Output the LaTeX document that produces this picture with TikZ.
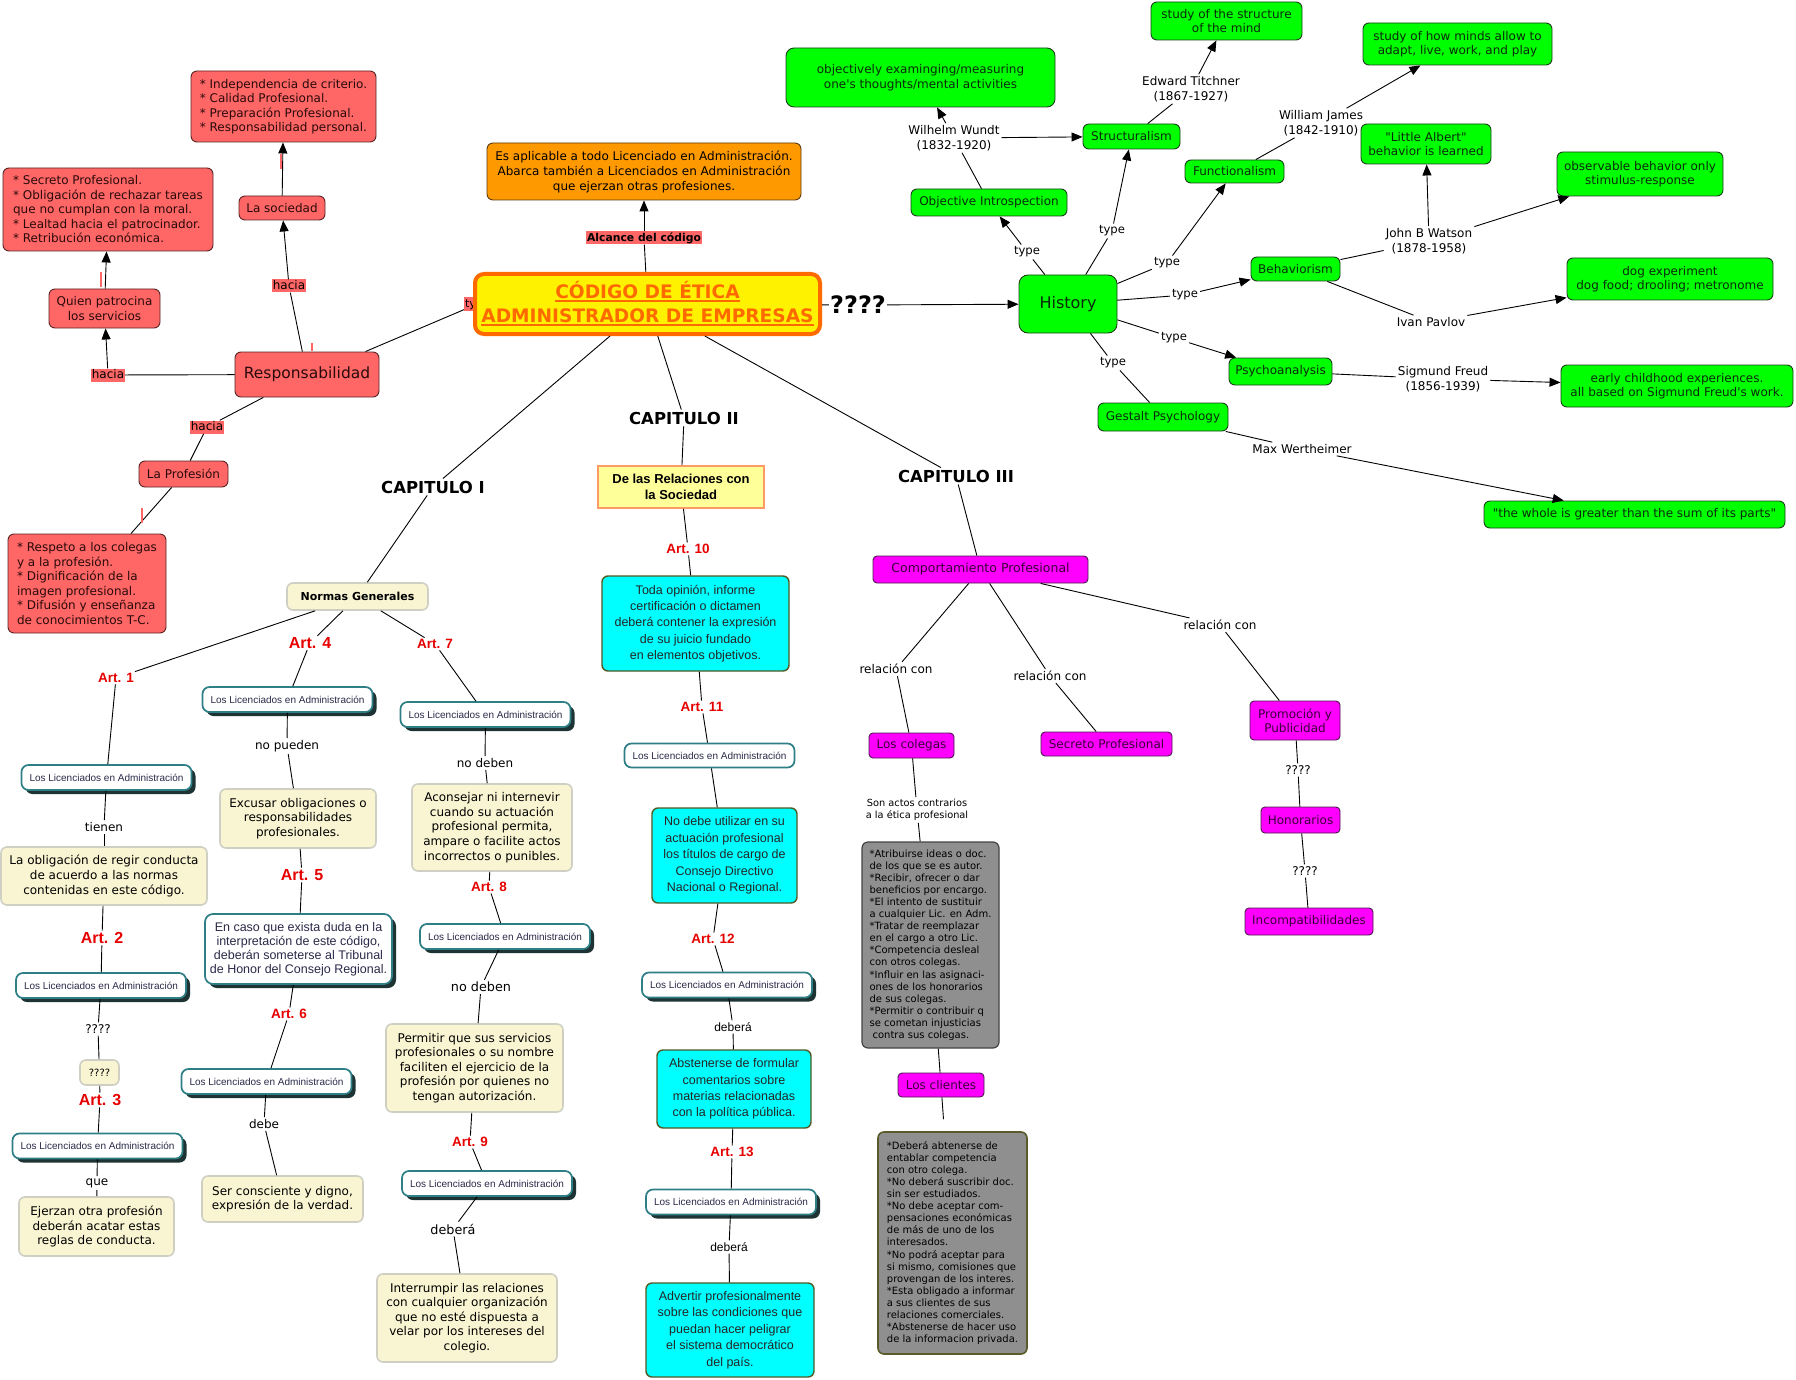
\documentclass[tikz,border=0pt]{standalone}
\usepackage{fontspec}
\setmainfont{DejaVu Sans}
\newfontfamily\arialf{Liberation Sans}
\usetikzlibrary{arrows.meta,shadows}
\definecolor{redbox}{HTML}{FF6666}
\definecolor{redborder}{HTML}{5A2424}
\definecolor{redtext}{HTML}{2A0A0A}
\definecolor{greenbox}{HTML}{00FF00}
\definecolor{greenborder}{HTML}{1A3F1A}
\definecolor{greentext}{HTML}{0A2A0A}
\definecolor{cyanbox}{HTML}{00FFFF}
\definecolor{cyanborder}{HTML}{4F5A24}
\definecolor{magbox}{HTML}{FF00FF}
\definecolor{magborder}{HTML}{4A1A4A}
\definecolor{magtext}{HTML}{3A003A}
\definecolor{creambox}{HTML}{F9F5D2}
\definecolor{creamborder}{HTML}{CFCFC4}
\definecolor{tealborder}{HTML}{2E7F86}
\definecolor{shadowc}{HTML}{1E3434}
\definecolor{lltext}{HTML}{2A2A4A}
\definecolor{orangebox}{HTML}{FF9900}
\definecolor{orangeborder}{HTML}{5A3A10}
\definecolor{mainorange}{HTML}{FF6A00}
\definecolor{relfill}{HTML}{FFFF99}
\definecolor{relborder}{HTML}{FF9966}
\definecolor{grayboxc}{HTML}{8F8F8F}
\definecolor{grayborderA}{HTML}{444444}
\definecolor{grayborderB}{HTML}{5A5A2A}
\definecolor{artred}{HTML}{E60000}
\newcommand{\myfs}[2]{\fontsize{#1}{#2}\selectfont}
\newcommand{\ulx}[1]{\leavevmode\setbox0\hbox{#1}\rlap{\rule[-3.5pt]{\wd0}{2pt}}\box0}
\tikzset{
 conn/.style={draw=black, line width=0.9pt},
 arr/.style={conn, -{Triangle[length=11pt,width=9pt]}},
 boxbase/.style={rounded corners=6pt, inner sep=3pt, align=center},
 redb/.style={boxbase, fill=redbox, draw=redborder, line width=0.9pt, text=redtext, font=\myfs{12}{14.5}},
 hacia/.style={fill=redbox, inner xsep=0.8pt, inner ysep=0.5pt, text height=9.5pt, text depth=2.5pt, font=\myfs{12}{14}},
 redmark/.style={fill=redbox, minimum width=2pt, minimum height=15pt, inner sep=0pt},
 greenb/.style={boxbase, fill=greenbox, draw=greenborder, line width=0.9pt, text=greentext, font=\myfs{12}{14.5}},
 lbl/.style={inner sep=2pt, align=center, font=\myfs{12}{14.5}},
 cyanb/.style={boxbase, fill=cyanbox, draw=cyanborder, line width=1.4pt, text=black!85, font=\arialf\myfs{12.5}{16.4}},
 llb/.style={rounded corners=7pt, fill=white, draw=tealborder, line width=1.7pt, text=lltext, font=\arialf\myfs{10}{12}, minimum width=170pt, minimum height=25pt, inner sep=2pt, align=center, drop shadow={shadow xshift=4pt, shadow yshift=-4pt, opacity=1, fill=shadowc}},
 llplain/.style={rounded corners=7pt, fill=white, draw=tealborder, line width=1.7pt, text=lltext, font=\arialf\myfs{10}{12}, minimum width=170pt, minimum height=24pt, inner sep=2pt},
 creamb/.style={boxbase, fill=creambox, draw=creamborder, line width=1.6pt, text=black, font=\myfs{12}{14.6}},
 art/.style={text=artred, inner sep=1.5pt, font=\arialf\bfseries\myfs{13.5}{15}},
 artL/.style={text=artred, inner sep=1.5pt, font=\arialf\bfseries\myfs{16}{18}},
 capl/.style={inner sep=2pt, font=\bfseries\myfs{16.5}{19}},
 magb/.style={boxbase, rounded corners=4pt, fill=magbox, draw=magborder, line width=0.9pt, text=magtext, font=\myfs{12}{14}},
 grayb/.style={boxbase, align=left, fill=grayboxc, line width=1.2pt, text=black, font=\myfs{10}{12.1}},
 mainb/.style={rounded corners=9pt, fill=yellow, draw=mainorange, line width=4pt, text=mainorange, align=center, font=\bfseries\myfs{18.6}{24}, minimum width=345pt, minimum height=60pt}
}
\begin{document}
\begin{tikzpicture}[x=1pt,y=-1pt]
\useasboundingbox[fill=white] (0,0) rectangle (1796,1380);

% ---------------- red area ----------------
\node[redb, align=left, minimum width=185pt, minimum height=71pt] (rInd) at (283.5,106.5) {* Independencia de criterio.\\* Calidad Profesional.\\* Preparación Profesional.\\* Responsabilidad personal.};
\node[redb, minimum width=86pt, minimum height=24pt] (rSoc) at (282,208) {La sociedad};
\node[redb, align=left, minimum width=210pt, minimum height=83pt] (rSec) at (108,209.5) {* Secreto Profesional.\\* Obligación de rechazar tareas\\que no cumplan con la moral.\\* Lealtad hacia el patrocinador.\\* Retribución económica.};
\node[redb, minimum width=111pt, minimum height=39pt] (rQuien) at (104.5,308.5) {Quien patrocina\\los servicios};
\node[redmark, minimum height=8pt] (mk3) at (312,347) {};
\node[redb, font=\myfs{15.5}{18}, minimum width=144pt, minimum height=45pt] (rResp) at (307,374.5) {Responsabilidad};
\node[redb, minimum width=89pt, minimum height=26pt] (rProf) at (183.5,474) {La Profesión};
\node[redb, align=left, minimum width=158pt, minimum height=99pt] (rRes) at (87,583.5) {* Respeto a los colegas\\y a la profesión.\\* Dignificación de la\\imagen profesional.\\* Difusión y enseñanza\\de conocimientos T-C.};
\node[hacia] (hacia1) at (108,375) {hacia};
\node[hacia] (hacia2) at (289,286) {hacia};
\node[hacia] (hacia3) at (207,427) {hacia};
\node[hacia, font=\myfs{11}{13}, anchor=west] (typeR) at (464,304) {type};

% ---------------- main ----------------
\node[boxbase, fill=orangebox, draw=orangeborder, line width=0.9pt, font=\myfs{12}{15}, minimum width=314pt, minimum height=57pt] (orng) at (644,171.5) {Es aplicable a todo Licenciado en Administración.\\Abarca también a Licenciados en Administración\\que ejerzan otras profesiones.};
\node[hacia, font=\bfseries\myfs{10.8}{13}] (alc) at (644,238) {Alcance del código};
\node[mainb] (main) at (647.5,304) {\ulx{CÓDIGO DE ÉTICA}\\\ulx{ADMINISTRADOR DE EMPRESAS}};
\node[inner sep=1pt, font=\bfseries\myfs{24}{26}] (qq) at (858,305) {????};

\node[capl] (cap1) at (433,487) {CAPITULO I};
\node[capl] (cap2) at (684,418) {CAPITULO II};
\node[capl] (cap3) at (956,476) {CAPITULO III};

% ---------------- capitulo I ----------------
\node[creamb, font=\bfseries\myfs{11}{13}, minimum width=141pt, minimum height=27pt] (norm) at (357.5,596.5) {Normas Generales};
\node[art] (art1) at (116,678) {Art. 1};
\node[artL] (art4) at (310,643) {Art. 4};
\node[art] (art7) at (435,644) {Art. 7};
\node[llb] (ll1) at (106.5,777.5) {Los Licenciados en Administración};
\node[lbl] (tien) at (104,827) {tienen};
\node[creamb, minimum width=206pt, minimum height=58pt] (cOb) at (104,876) {La obligación de regir conducta\\de acuerdo a las normas\\contenidas en este código.};
\node[artL] (art2) at (102,938) {Art. 2};
\node[llb] (ll2) at (101,985.5) {Los Licenciados en Administración};
\node[lbl] (qa) at (98,1029) {????};
\node[creamb, font=\myfs{10}{12}, minimum width=39pt, minimum height=25pt, inner sep=1pt] (cQ) at (99.5,1072.5) {????};
\node[artL] (art3) at (100,1100) {Art. 3};
\node[llb] (ll3) at (97.5,1146) {Los Licenciados en Administración};
\node[lbl] (que) at (97,1183) {que};
\node[creamb, minimum width=155pt, minimum height=59pt] (cEj) at (96.5,1226.5) {Ejerzan otra profesión\\deberán acatar estas\\reglas de conducta.};

\node[llb] (ll4) at (287.5,699.5) {Los Licenciados en Administración};
\node[lbl] (nop) at (287,746) {no pueden};
\node[creamb, minimum width=156pt, minimum height=59pt] (cEx) at (298,818.5) {Excusar obligaciones o\\responsabilidades\\profesionales.};
\node[artL] (art5) at (302,875) {Art. 5};
\node[llb, font=\arialf\myfs{12.5}{13.9}, minimum width=187pt, minimum height=70pt, rounded corners=8pt] (enc) at (298.5,949) {En caso que exista duda en la\\interpretación de este código,\\deberán someterse al Tribunal\\de Honor del Consejo Regional.};
\node[art] (art6) at (289,1014) {Art. 6};
\node[llb] (ll6) at (266.5,1081.5) {Los Licenciados en Administración};
\node[lbl] (debe) at (264,1124) {debe};
\node[creamb, minimum width=161pt, minimum height=46pt] (cSer) at (282.5,1199) {Ser consciente y digno,\\expresión de la verdad.};

\node[llb] (ll7) at (485.5,714.5) {Los Licenciados en Administración};
\node[lbl] (nod1) at (485,763) {no deben};
\node[creamb, minimum width=160pt, minimum height=87pt] (cAc) at (492,827.5) {Aconsejar ni internevir\\cuando su actuación\\profesional permita,\\ampare o facilite actos\\incorrectos o punibles.};
\node[art] (art8) at (489,887) {Art. 8};
\node[llb] (ll8) at (505,936.5) {Los Licenciados en Administración};
\node[lbl, font=\myfs{12.8}{15}] (nod2) at (481,987) {no deben};
\node[creamb, minimum width=177pt, minimum height=88pt] (cPe) at (474.5,1068) {Permitir que sus servicios\\profesionales o su nombre\\faciliten el ejercicio de la\\profesión por quienes no\\tengan autorización.};
\node[art] (art9) at (470,1142) {Art. 9};
\node[llb] (ll9) at (487,1183.5) {Los Licenciados en Administración};
\node[lbl, font=\myfs{12.8}{15}] (deb3) at (453,1229) {deberá};
\node[creamb, minimum width=180pt, minimum height=88pt] (cIn) at (467,1318) {Interrumpir las relaciones\\con cualquier organización\\que no esté dispuesta a\\velar por los intereses del\\colegio.};

% ---------------- capitulo II ----------------
\node[boxbase, rounded corners=0pt, fill=relfill, draw=relborder, line width=1.6pt, font=\arialf\bfseries\myfs{13}{16}, minimum width=166pt, minimum height=42pt] (rel) at (681,487) {De las Relaciones con\\la Sociedad};
\node[art] (art10) at (688,549) {Art. 10};
\node[cyanb, minimum width=187pt, minimum height=95pt] (cy1) at (695.5,623.5) {Toda opinión, informe\\certificación o dictamen\\deberá contener la expresión\\de su juicio fundado\\en elementos objetivos.};
\node[art] (art11) at (702,707) {Art. 11};
\node[llplain] (ll11) at (709.5,755.5) {Los Licenciados en Administración};
\node[cyanb, minimum width=145pt, minimum height=95pt] (cy2) at (724.5,855.5) {No debe utilizar en su\\actuación profesional\\los títulos de cargo de\\Consejo Directivo\\Nacional o Regional.};
\node[art] (art12) at (713,939) {Art. 12};
\node[llb] (ll12) at (727,985) {Los Licenciados en Administración};
\node[lbl, font=\arialf\myfs{12}{14}] (deb1) at (733,1027) {deberá};
\node[cyanb, minimum width=154pt, minimum height=78pt] (cy3) at (734,1089) {Abstenerse de formular\\comentarios sobre\\materias relacionadas\\con la política pública.};
\node[art] (art13) at (732,1152) {Art. 13};
\node[llb] (ll13) at (731,1202) {Los Licenciados en Administración};
\node[lbl, font=\arialf\myfs{12}{14}] (deb2) at (729,1247) {deberá};
\node[cyanb, minimum width=168pt, minimum height=94pt] (cy4) at (730,1330) {Advertir profesionalmente\\sobre las condiciones que\\puedan hacer peligrar\\el sistema democrático\\del país.};

% ---------------- capitulo III ----------------
\node[magb, font=\myfs{12.5}{14}, minimum width=215pt, minimum height=27pt] (comp) at (980.5,569.5) {Comportamiento Profesional};
\node[lbl] (rel1) at (896,669) {relación con};
\node[lbl] (rel2) at (1050,676) {relación con};
\node[lbl] (rel3) at (1220,625) {relación con};
\node[magb, minimum width=85pt, minimum height=25pt] (coleg) at (911.5,745.5) {Los colegas};
\node[magb, minimum width=131pt, minimum height=24pt] (secr) at (1106.5,744) {Secreto Profesional};
\node[magb, minimum width=90pt, minimum height=39pt] (promo) at (1295,720.5) {Promoción y\\Publicidad};
\node[lbl] (q1) at (1298,770) {????};
\node[magb, minimum width=79pt, minimum height=26pt] (hono) at (1300.5,820) {Honorarios};
\node[lbl] (q2) at (1305,871) {????};
\node[magb, minimum width=128pt, minimum height=27pt] (incom) at (1309,921.5) {Incompatibilidades};
\node[lbl, font=\myfs{9.8}{12}] (son) at (917,810) {Son actos contrarios\\a la ética profesional};
\node[grayb, draw=grayborderA, minimum width=137pt, minimum height=206pt] (gr1) at (930.5,945) {*Atribuirse ideas o doc.\\de los que se es autor.\\*Recibir, ofrecer o dar\\beneficios por encargo.\\*El intento de sustituir\\a cualquier Lic. en Adm.\\*Tratar de reemplazar\\en el cargo a otro Lic.\\*Competencia desleal\\con otros colegas.\\*Influir en las asignaci-\\ones de los honorarios\\de sus colegas.\\*Permitir o contribuir q\\se cometan injusticias\\\hspace*{3pt}contra sus colegas.};
\node[magb, minimum width=86pt, minimum height=24pt] (clien) at (941,1085) {Los clientes};
\node[grayb, draw=grayborderB, line width=1.6pt, minimum width=149pt, minimum height=222pt] (gr2) at (952.5,1243) {*Deberá abtenerse de\\entablar competencia\\con otro colega.\\*No deberá suscribir doc.\\sin ser estudiados.\\*No debe aceptar com-\\pensaciones económicas\\de más de uno de los\\interesados.\\*No podrá aceptar para\\si mismo, comisiones que\\provengan de los interes.\\*Esta obligado a informar\\a sus clientes de sus\\relaciones comerciales.\\*Abstenerse de hacer uso\\de la informacion privada.};

% ---------------- green area ----------------
\node[greenb, rounded corners=9pt, font=\myfs{16}{18}, minimum width=98pt, minimum height=58pt] (hist) at (1068,304) {History};
\node[greenb, minimum width=269pt, minimum height=59pt, rounded corners=8pt] (gObjEx) at (920.5,77.5) {objectively examinging/measuring\\one\textquotesingle s thoughts/mental activities};
\node[greenb, minimum width=151pt, minimum height=38pt] (gStudS) at (1226.5,21) {study of the structure\\of the mind};
\node[greenb, minimum width=189pt, minimum height=42pt] (gStudM) at (1457.5,44) {study of how minds allow to\\adapt, live, work, and play};
\node[greenb, minimum width=130pt, minimum height=40pt] (gAlb) at (1426,144) {\textquotedbl Little Albert\textquotedbl\\behavior is learned};
\node[greenb, minimum width=166pt, minimum height=44pt] (gObs) at (1640,174) {observable behavior only\\stimulus-response};
\node[greenb, minimum width=206pt, minimum height=42pt] (gDog) at (1670,279) {dog experiment\\dog food; drooling; metronome};
\node[greenb, minimum width=232pt, minimum height=42pt] (gEarly) at (1677,386) {early childhood experiences.\\all based on Sigmund Freud\textquotesingle s work.};
\node[greenb, minimum width=301pt, minimum height=27pt] (gWhole) at (1634.5,514.5) {\textquotedbl the whole is greater than the sum of its parts\textquotedbl};
\node[greenb, minimum width=97pt, minimum height=25pt] (gStr) at (1131.5,136.5) {Structuralism};
\node[greenb, minimum width=99pt, minimum height=23pt] (gFun) at (1234.5,171.5) {Functionalism};
\node[greenb, minimum width=89pt, minimum height=24pt] (gBeh) at (1295.5,269) {Behaviorism};
\node[greenb, minimum width=103pt, minimum height=27pt] (gPsy) at (1280.5,371.5) {Psychoanalysis};
\node[greenb, minimum width=130pt, minimum height=28pt] (gGes) at (1163,417) {Gestalt Psychology};
\node[greenb, minimum width=156pt, minimum height=27pt] (gObjI) at (989,202.5) {Objective Introspection};
\node[lbl] (wundt) at (954,138) {Wilhelm Wundt\\(1832-1920)};
\node[lbl] (titch) at (1191,89) {Edward Titchner\\(1867-1927)};
\node[lbl] (james) at (1321,123) {William James\\(1842-1910)};
\node[lbl] (watson) at (1429,241) {John B Watson\\(1878-1958)};
\node[lbl] (pavlov) at (1431,322) {Ivan Pavlov};
\node[lbl] (freud) at (1443,379) {Sigmund Freud\\(1856-1939)};
\node[lbl] (maxw) at (1302,449) {Max Wertheimer};
\node[lbl, font=\myfs{11.6}{14}] (t1) at (1027,252) {type};
\node[lbl, font=\myfs{11.6}{14}] (t2) at (1112,231) {type};
\node[lbl, font=\myfs{11.6}{14}] (t3) at (1167,263) {type};
\node[lbl, font=\myfs{11.6}{14}] (t4) at (1185,295) {type};
\node[lbl, font=\myfs{11.6}{14}] (t5) at (1174,338) {type};
\node[lbl, font=\myfs{11.6}{14}] (t6) at (1113,363) {type};

% ---------------- connectors ----------------
\draw[arr] (rSoc) -- (rInd);
\draw[conn] (rResp) -- (hacia2);
\draw[arr] (hacia2) -- (rSoc);
\draw[conn] (rResp) -- (hacia1);
\draw[arr] (hacia1) -- (rQuien);
\draw[arr] (rQuien) -- (rSec);
\draw[conn] (rResp) -- (hacia3);
\draw[conn] (hacia3) -- (rProf);
\draw[conn] (rProf) -- (rRes);
\draw[conn] ([xshift=-14pt]rResp.north east) -- (typeR);

\draw[conn] (main) -- (alc);
\draw[arr] (alc) -- (orng);
\draw[conn] (main) -- (qq);
\draw[arr] (qq) -- (hist);
\draw[conn] (main) -- (cap1);
\draw[conn] (cap1) -- (norm);
\draw[conn] (main) -- (cap2);
\draw[conn] (cap2) -- (rel);
\draw[conn] (main) -- (cap3);
\draw[conn] (cap3) -- (comp);

\draw[conn] (norm) -- (art1);
\draw[conn] (art1) -- (ll1);
\draw[conn] (ll1) -- (tien);
\draw[conn] (tien) -- (cOb);
\draw[conn] (cOb) -- (art2);
\draw[conn] (art2) -- (ll2);
\draw[conn] (ll2) -- (qa);
\draw[conn] (qa) -- (cQ);
\draw[conn] (cQ) -- (art3);
\draw[conn] (art3) -- (ll3);
\draw[conn] (ll3) -- (que);
\draw[conn] (que) -- (cEj);

\draw[conn] (norm) -- (art4);
\draw[conn] (art4) -- (ll4);
\draw[conn] (ll4) -- (nop);
\draw[conn] (nop) -- (cEx);
\draw[conn] (cEx) -- (art5);
\draw[conn] (art5) -- (enc);
\draw[conn] (enc) -- (art6);
\draw[conn] (art6) -- (ll6);
\draw[conn] (ll6) -- (debe);
\draw[conn] (debe) -- (cSer);

\draw[conn] (norm) -- (art7);
\draw[conn] (art7) -- (ll7);
\draw[conn] (ll7) -- (nod1);
\draw[conn] (nod1) -- (cAc);
\draw[conn] (cAc) -- (art8);
\draw[conn] (art8) -- (ll8);
\draw[conn] (ll8) -- (nod2);
\draw[conn] (nod2) -- (cPe);
\draw[conn] (cPe) -- (art9);
\draw[conn] (art9) -- (ll9);
\draw[conn] (ll9) -- (deb3);
\draw[conn] (deb3) -- (cIn);

\draw[conn] (rel) -- (art10);
\draw[conn] (art10) -- (cy1);
\draw[conn] (cy1) -- (art11);
\draw[conn] (art11) -- (ll11);
\draw[conn] (ll11) -- (cy2);
\draw[conn] (cy2) -- (art12);
\draw[conn] (art12) -- (ll12);
\draw[conn] (ll12) -- (deb1);
\draw[conn] (deb1) -- (cy3);
\draw[conn] (cy3) -- (art13);
\draw[conn] (art13) -- (ll13);
\draw[conn] (ll13) -- (deb2);
\draw[conn] (deb2) -- (cy4);

\draw[conn] (comp) -- (rel1);
\draw[conn] (rel1) -- (coleg);
\draw[conn] (comp) -- (rel2);
\draw[conn] (rel2) -- (secr);
\draw[conn] (comp) -- (rel3);
\draw[conn] (rel3) -- (promo);
\draw[conn] (promo) -- (q1);
\draw[conn] (q1) -- (hono);
\draw[conn] (hono) -- (q2);
\draw[conn] (q2) -- (incom);
\draw[conn] (coleg) -- (son);
\draw[conn] (son) -- (gr1);
\draw[conn] (gr1) -- (clien);
\draw[conn, shorten >=12pt] (clien) -- (gr2);

\draw[conn] (hist) -- (t1);
\draw[arr] (t1) -- (gObjI);
\draw[conn] (hist) -- (t2);
\draw[arr] (t2) -- (gStr);
\draw[conn] (hist) -- (t3);
\draw[arr] (t3) -- (gFun);
\draw[conn] (hist) -- (t4);
\draw[arr] (t4) -- (gBeh);
\draw[conn] (hist) -- (t5);
\draw[arr] (t5) -- (gPsy);
\draw[conn] (hist) -- (t6);
\draw[conn] (t6) -- (gGes);
\draw[conn] (gObjI) -- (wundt);
\draw[arr] (wundt) -- (gObjEx);
\draw[arr] (wundt) -- (gStr);
\draw[conn] (gStr) -- (titch);
\draw[arr] (titch) -- (gStudS);
\draw[conn] (gFun) -- (james);
\draw[arr] (james) -- (gStudM);
\draw[conn] (gBeh) -- (watson);
\draw[arr] (watson) -- (gAlb);
\draw[arr] (watson) -- (gObs);
\draw[conn] (gBeh) -- (pavlov);
\draw[arr] (pavlov) -- (gDog);
\draw[conn] (gPsy) -- (freud);
\draw[arr] (freud) -- (gEarly);
\draw[conn] (gGes) -- (maxw);
\draw[arr] (maxw) -- (gWhole);

% red marks on connectors
\node[redmark] (mk1) at (281,162) {};
\node[redmark] (mk2) at (101,280) {};
\node[redmark] (mk4) at (142,515) {};
\end{tikzpicture}
\end{document}
